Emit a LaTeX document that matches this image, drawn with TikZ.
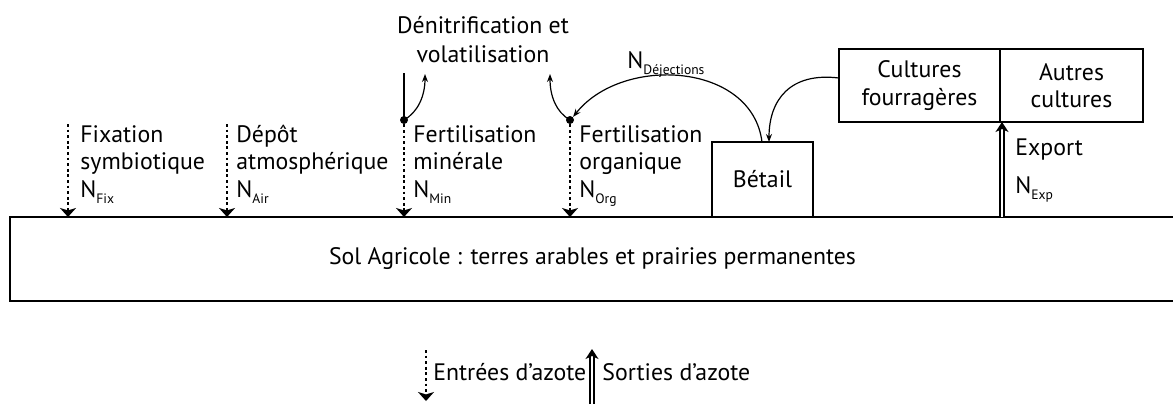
\documentclass[tikz,border=0pt]{standalone}
\usepackage{fontspec}
\setmainfont{PT Sans}
\usetikzlibrary{arrows.meta}
\newcommand{\Nsub}[1]{N\raisebox{-3pt}{\fontsize{6.8}{7}\selectfont #1}}
\newcommand{\stackL}[1]{\begin{tabular}[t]{@{}l@{}}#1\end{tabular}}
\newcommand{\stackC}[1]{\begin{tabular}[t]{@{}c@{}}#1\end{tabular}}
\begin{document}
\begin{tikzpicture}[x=0.5pt,y=-0.5pt,
  font=\fontsize{11.9}{13.75}\selectfont,
  inflow/.style={line width=1.1pt, dash pattern=on 1.4pt off 1.4pt, -{Stealth[width=8pt,length=4.5pt,inset=1.2pt]}},
  outflow/.style={double, double distance=1.4pt, line width=0.7pt, -{Stealth[width=6.5pt,length=5pt,inset=1.5pt]}},
  thinarrow/.style={line width=0.6pt, -{Stealth[length=4pt,width=3pt]}},
  boxnode/.style={draw, line width=0.9pt, inner sep=0, align=center},
  dotnode/.style={circle, fill, inner sep=0, minimum size=4pt},
  txt/.style={inner sep=0, anchor=base west},
  ctxt/.style={inner sep=0, anchor=base}]
\clip (0,0) rectangle (1173,404);
\useasboundingbox (0,0) rectangle (1173,404);

% soil
\node[boxnode, line width=0.8pt, minimum width=582.5pt, minimum height=42pt] (soil) at (592.5,259)
  {Sol Agricole : terres arables et prairies permanentes};

% livestock and crops
\node[boxnode, line width=1.1pt, minimum width=50.5pt, minimum height=37.5pt] (betail) at (762.5,179.5) {Bétail};
\node[boxnode, line width=0.8pt, minimum width=80.5pt, minimum height=36.5pt] (fourr) at (919.5,85.5) {Cultures\\fourragères};
\node[boxnode, line width=0.8pt, minimum width=71.5pt, minimum height=36.5pt] (autres) at (1071.5,85.5) {Autres\\cultures};

% coordinates
\coordinate (fixTop) at (68,124);
\coordinate (fixBot) at (68,217);
\coordinate (airTop) at (227,124);
\coordinate (airBot) at (227,217);
\coordinate (minTop) at (404,73);
\coordinate (minBot) at (404,217);
\coordinate (minUp) at (425,74);
\coordinate (orgBot) at (570,217);
\coordinate (orgUp) at (550,74);
\coordinate (betTopA) at (762,142);
\coordinate (betTopB) at (769,142);
\coordinate (fourrL) at (839,78);
\coordinate (expBot) at (1002,217);
\coordinate (expTop) at (1002,122);
\coordinate (legInTop) at (426,350);
\coordinate (legInBot) at (426,401);
\coordinate (legOutBot) at (592,404);
\coordinate (legOutTop) at (592,349);

\node[dotnode] (dmin) at (404,120) {};
\node[dotnode] (dorg) at (570,120) {};

% input arrows
\draw[inflow] (fixTop) -- (fixBot);
\draw[inflow] (airTop) -- (airBot);
\draw[inflow] (dmin) -- (minBot);
\draw[inflow] (dorg) -- (orgBot);

% mineral fertilisation: solid line and volatilisation
\draw[line width=1.1pt] (minTop) -- (dmin.center);
\draw[thinarrow] (dmin.center) .. controls (418,112) and (425,96) .. (minUp);
\draw[thinarrow] (dorg.center) .. controls (556,112) and (550,96) .. (orgUp);

% dejections
\draw[thinarrow] (betTopA) .. controls (752,62) and (622,55) .. (dorg.north east);
\draw[thinarrow] (fourrL) .. controls (790,72) and (769,100) .. (betTopB);

% export
\draw[outflow] (expBot) -- (expTop);

% labels
\node[txt] (lfix) at (80,142) {\stackL{Fixation\\symbiotique\\\Nsub{Fix}}};
\node[txt] (lair) at (236,142) {\stackL{Dépôt\\atmosphérique\\\Nsub{Air}}};
\node[txt] (lmin) at (413,142) {\stackL{Fertilisation\\minérale\\\Nsub{Min}}};
\node[txt] (lorg) at (579,142) {\stackL{Fertilisation\\organique\\\Nsub{Org}}};
\node[txt] (lexp) at (1015,155) {\stackL{Export\\[5.3pt]\Nsub{Exp}}};
\node[ctxt] (lden) at (483,33) {\stackC{Dénitrification et\\[0.8pt]volatilisation}};
\node[txt] (ldej) at (627,68) {\Nsub{Déjections}};

% legend
\draw[inflow] (legInTop) -- (legInBot);
\draw[outflow] (legOutBot) -- (legOutTop);
\node[txt] (lin) at (433,380) {Entrées d’azote};
\node[txt] (lout) at (602,380) {Sorties d’azote};
\end{tikzpicture}
\end{document}
